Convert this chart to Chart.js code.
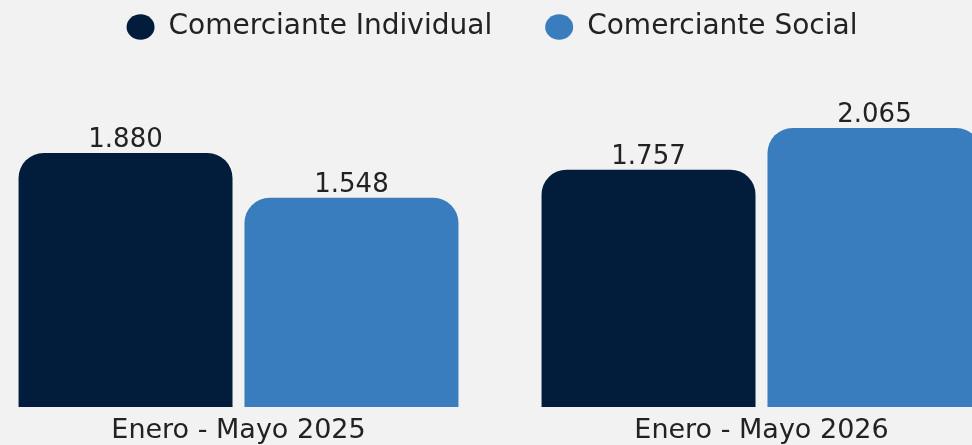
<!DOCTYPE html>
<html><head><meta charset="utf-8">
<script src="https://cdn.jsdelivr.net/npm/chart.js@4"></script>
<style>
html,body{margin:0;padding:0;background:#f2f2f2;overflow:hidden;width:972px;height:445px;}
#wrap{position:absolute;left:-23px;top:0;width:1046px;height:445px;}
</style></head><body>
<div id="wrap"><canvas id="c"></canvas></div>
<script>
const categories = ['Enero - Mayo 2025', 'Enero - Mayo 2026'];
const seriesNames = ['Comerciante Individual', 'Comerciante Social'];
const individual = [1880, 1757];
const social = [1548, 2065];
const seriesColors = ['#021d3b', '#3a7dbf'];

function fmt(v){ return String(v).replace(/\B(?=(\d{3})+(?!\d))/g, '.'); }

const valueLabels = {
  id: 'valueLabels',
  afterDatasetsDraw(chart){
    const ctx = chart.ctx;
    ctx.save();
    ctx.font = '26px "DejaVu Sans"';
    ctx.fillStyle = '#222222';
    ctx.textAlign = 'center';
    ctx.textBaseline = 'alphabetic';
    chart.data.datasets.forEach((ds, i) => {
      chart.getDatasetMeta(i).data.forEach((el, j) => {
        ctx.fillText(fmt(ds.data[j]), el.x, el.y - 6);
      });
    });
    ctx.restore();
  }
};

const legendShift = {
  id: 'legendShift',
  afterLayout(chart){
    const l = chart.legend; if (!l) return;
    l.left -= 8; l.right -= 8; l.top -= 40; l.bottom -= 40;
  }
};

new Chart(document.getElementById('c'), {
  type: 'bar',
  data: {
    labels: categories,
    datasets: [
      { label: seriesNames[0], data: individual, backgroundColor: seriesColors[0], borderRadius: 25, borderSkipped: 'start' },
      { label: seriesNames[1], data: social, backgroundColor: seriesColors[1], borderRadius: 25, borderSkipped: 'start' }
    ]
  },
  options: {
    responsive: true,
    maintainAspectRatio: false,
    animation: false,
    categoryPercentage: 0.864,
    barPercentage: 0.947,
    layout: { padding: 0 },
    plugins: {
      legend: {
        position: 'top',
        labels: {
          usePointStyle: true,
          pointStyle: 'circle',
          pointStyleWidth: 28,
          boxHeight: 18,
          padding: 53,
          color: '#222222',
          font: { family: 'DejaVu Sans', size: 28 }
        }
      },
      tooltip: { enabled: false }
    },
    scales: {
      x: {
        grid: { display: false, drawTicks: false },
        border: { display: false },
        ticks: { color: '#222222', padding: 8, font: { family: 'DejaVu Sans', size: 27 } },
        afterFit(scale){ scale.height = 38; }
      },
      y: {
        display: false,
        min: 0,
        max: 2339
      }
    }
  },
  plugins: [valueLabels, legendShift]
});
</script>
</body></html>
